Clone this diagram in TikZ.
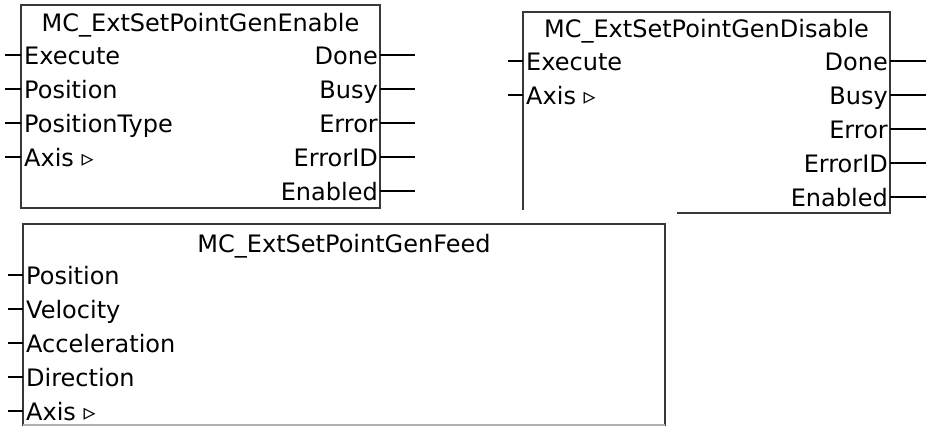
\documentclass[tikz,border=0pt]{standalone}
\usepackage{fontspec}
\setmainfont{DejaVu Sans}
\begin{document}
\begin{tikzpicture}[x=1pt,y=-1pt,
  boxline/.style={draw=black!78, line width=2pt, line cap=rect},
  pinline/.style={draw=black, line width=1.5pt},
  lbl/.style={inner sep=0pt, font=\fontsize{24}{28}\selectfont, text=black},
  inlbl/.style={lbl, anchor=base west},
  outlbl/.style={lbl, anchor=base east},
  titlelbl/.style={lbl, anchor=base}]
\useasboundingbox (0,0) rectangle (932,426);
% ---------- MC_ExtSetPointGenEnable ----------
\coordinate (enTL) at (21,5);
\coordinate (enBR) at (380,208);
\draw[boxline] (enTL) rectangle (enBR);
\node[titlelbl] (enTitle) at (200.5,31) {MC\_ExtSetPointGenEnable};
\foreach \n/\t/\y in {1/Execute/55, 2/Position/89, 3/PositionType/123, 4/{Axis ▹}/157}{
  \coordinate (enI\n) at (21,\y);
  \coordinate (enI\n e) at (5,\y);
  \node[inlbl] (enIL\n) at (24,\y+9) {\t};
  \draw[pinline] (enI\n e) -- (enI\n);
}
\foreach \n/\t/\y in {1/Done/55, 2/Busy/89, 3/Error/123, 4/ErrorID/157, 5/Enabled/191}{
  \coordinate (enO\n) at (380,\y);
  \coordinate (enO\n e) at (415,\y);
  \node[outlbl] (enOL\n) at (378,\y+9) {\t};
  \draw[pinline] (enO\n) -- (enO\n e);
}
% ---------- MC_ExtSetPointGenDisable ----------
\coordinate (diTL) at (523,11.5);
\coordinate (diTR) at (890,11.5);
\coordinate (diBL) at (523,209);
\coordinate (diBR) at (890,213);
\coordinate (diBM) at (678,213);
\draw[boxline] (diBL) -- (diTL) -- (diTR) -- (diBR) -- (diBM);
\node[titlelbl] (diTitle) at (706.5,37) {MC\_ExtSetPointGenDisable};
\foreach \n/\t/\y in {1/Execute/61, 2/{Axis ▹}/95}{
  \coordinate (diI\n) at (523,\y);
  \coordinate (diI\n e) at (508,\y);
  \node[inlbl] (diIL\n) at (526,\y+9) {\t};
  \draw[pinline] (diI\n e) -- (diI\n);
}
\foreach \n/\t/\y in {1/Done/61, 2/Busy/95, 3/Error/129, 4/ErrorID/163, 5/Enabled/197}{
  \coordinate (diO\n) at (890,\y);
  \coordinate (diO\n e) at (926,\y);
  \node[outlbl] (diOL\n) at (888,\y+9) {\t};
  \draw[pinline] (diO\n) -- (diO\n e);
}
% ---------- MC_ExtSetPointGenFeed ----------
\coordinate (feTL) at (23,224);
\coordinate (feTR) at (665,224);
\coordinate (feBL) at (23,426);
\coordinate (feBR) at (665,426);
\draw[boxline, line cap=butt] (feBL) -- (feTL) -- (feTR) -- (feBR);
\draw[draw=black!30, line width=1.5pt] (23,425.2) -- (665,425.2);
\node[titlelbl] (feTitle) at (344,252) {MC\_ExtSetPointGenFeed};
\foreach \n/\t/\y in {1/Position/275, 2/Velocity/309, 3/Acceleration/343, 4/Direction/377, 5/{Axis ▹}/411}{
  \coordinate (feI\n) at (23,\y);
  \coordinate (feI\n e) at (8,\y);
  \node[inlbl] (feIL\n) at (26,\y+9) {\t};
  \draw[pinline] (feI\n e) -- (feI\n);
}
\end{tikzpicture}
\end{document}
